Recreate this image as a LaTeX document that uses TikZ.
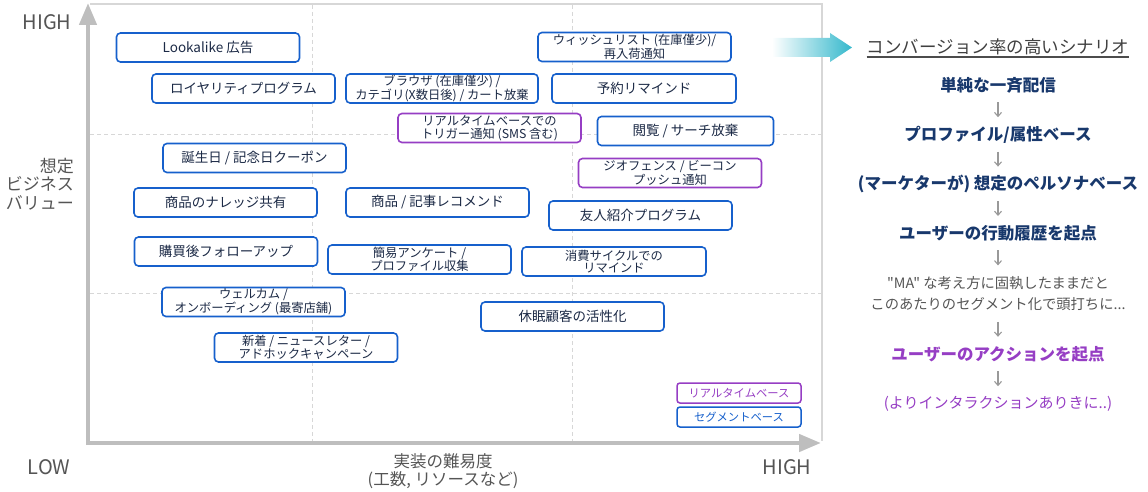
\documentclass[tikz,border=0pt]{standalone}
\usepackage{fontspec}
\setmainfont{Noto Sans CJK JP}
\newfontfamily\plainquotes{Noto Sans CJK JP}
\usetikzlibrary{arrows.meta,positioning}
\definecolor{scenblue}{RGB}{22,96,204}
\definecolor{scenpurple}{RGB}{150,62,196}
\definecolor{scentext}{RGB}{28,42,70}
\definecolor{stepnavy}{RGB}{24,56,108}
\definecolor{axisgray}{RGB}{190,190,190}
\definecolor{gridgray}{RGB}{215,215,215}
\definecolor{labelgray}{RGB}{85,85,85}
\definecolor{arrowteal}{RGB}{52,184,204}

\begin{document}
\begin{tikzpicture}[x=1pt,y=-1pt,
    scen/.style={draw=scenblue, fill=white, line width=1.6pt, rounded corners=4pt,
      minimum width=183pt, minimum height=29pt, inner sep=1pt, align=center,
      text=scentext, font=\fontsize{13.5}{14}\selectfont},
    scentwo/.style={scen, font=\fontsize{12.3}{12.5}\selectfont},
    realtime/.style={draw=scenpurple},
    legendbox/.style={draw=#1, text=#1, fill=white, line width=1.5pt, rounded corners=3pt,
      minimum width=124pt, minimum height=20pt, inner sep=1pt, font=\fontsize{11.3}{12}\selectfont},
    flowstep/.style={font=\bfseries\fontsize{16.5}{18}\selectfont, text=stepnavy,
      minimum height=34pt, inner sep=0pt},
    flownote/.style={font=\fontsize{14.3}{21}\selectfont, text=labelgray, align=center,
      minimum height=56pt, inner sep=0pt},
    flowarrow/.style={draw=black!40, line width=1.1pt, -{Straight Barb[length=4pt,width=7pt]}},
    axisline/.style={draw=axisgray, line width=4.5pt, -{Triangle[length=22pt,width=17pt]}},
    gridline/.style={draw=gridgray, line width=0.9pt, dash pattern=on 4pt off 3pt},
    axislabel/.style={text=labelgray, inner sep=0pt},
    node distance=15pt
  ]
  \useasboundingbox (0,0) rectangle (1148,492);

  % panel frame and grid
  \draw[gridgray, line width=1.6pt] (90,4) -- (822,4) -- (822,441);
  \draw[gridline] (312,5) -- (312,441);
  \draw[gridline] (572,5) -- (572,441);
  \draw[gridline] (90,134) -- (821,134);
  \draw[gridline] (90,293) -- (821,293);

  % axes
  \draw[axisline] (88,445) -- (88,3);
  \draw[axisline] (86,443) -- (821,443);

  % axis labels
  \node[axislabel, font=\fontsize{20}{20}\selectfont] (yhigh) at (47,22) {HIGH};
  \node[axislabel, font=\fontsize{20}{20}\selectfont] (xlow) at (49,467) {LOW};
  \node[axislabel, font=\fontsize{20}{20}\selectfont] (xhigh) at (787,467) {HIGH};
  \node[axislabel, anchor=east, align=right, font=\fontsize{17}{18.5}\selectfont] (ytitle) at (74,184)
    {想定\\ビジネス\\バリュー};
  \node[axislabel, align=center, font=\fontsize{16.5}{18}\selectfont] (xtitle) at (443,471)
    {実装の難易度\\(工数, リソースなど)};

  % scenarios
  \node[scen] (lookalike) at (208,47.5) {Lookalike 広告};
  \node[scentwo, minimum width=193pt] (wishlist) at (634.5,47) {ウィッシュリスト (在庫僅少)/\\再入荷通知};
  \node[scen] (loyalty) at (243.5,88.5) {ロイヤリティプログラム};
  \node[scentwo, minimum width=192pt] (browse) at (442,88.5) {ブラウザ (在庫僅少) /\\カテゴリ(X数日後) / カート放棄};
  \node[scen, minimum width=184pt] (reserve) at (644,88.5) {予約リマインド};
  \node[scentwo, realtime] (trigger) at (489.5,128) {リアルタイムベースでの\\トリガー通知 (SMS 含む)};
  \node[scen, minimum width=176pt] (abandon) at (685.5,131) {閲覧 / サーチ放棄};
  \node[scen] (birthday) at (254.5,158) {誕生日 / 記念日クーポン};
  \node[scentwo, realtime] (geofence) at (670,173) {ジオフェンス / ビーコン\\プッシュ通知};
  \node[scen] (knowledge) at (225.5,202.5) {商品のナレッジ共有};
  \node[scen] (recommend) at (437.5,202.5) {商品 / 記事レコメンド};
  \node[scen] (referral) at (640.5,215.5) {友人紹介プログラム};
  \node[scen] (followup) at (226,251.5) {購買後フォローアップ};
  \node[scentwo] (survey) at (419.5,259.5) {簡易アンケート /\\プロファイル収集};
  \node[scentwo, minimum width=184pt] (cycle) at (614,261.5) {消費サイクルでの\\リマインド};
  \node[scentwo] (welcome) at (253.5,302) {ウェルカム /\\オンボーディング (最寄店舗)};
  \node[scentwo] (newsletter) at (306,347.5) {新着 / ニュースレター /\\アドホックキャンペーン};
  \node[scen] (dormant) at (572.5,316.5) {休眠顧客の活性化};

  % legend
  \node[legendbox=scenpurple] (legrealtime) at (739,393) {リアルタイムベース};
  \node[legendbox=scenblue] (legsegment) at (739,417) {セグメントベース};

  % right panel
  \shade[left color=white, right color=arrowteal]
    (772,38) -- (830,38) -- (830,33) -- (852,47.5) -- (830,62) -- (830,57) -- (772,57) -- cycle;
  \node[inner sep=0pt, text=black!75, font=\fontsize{17.5}{18}\selectfont] (title) at (998,47)
    {コンバージョン率の高いシナリオ};
  \draw[black!70, line width=1.2pt] ([yshift=-10pt]title.west) -- ([yshift=-10pt]title.east);

  \node[flowstep] (stepbulk) at (998,85) {単純な一斉配信};
  \node[flowstep, below=of stepbulk] (stepprofile) {プロファイル/属性ベース};
  \node[flowstep, below=of stepprofile] (steppersona) {(マーケターが) 想定のペルソナベース};
  \node[flowstep, below=of steppersona] (stephistory) {ユーザーの行動履歴を起点};
  \node[flownote, below=of stephistory] (stepnote)
    {{\plainquotes "MA"} な考え方に固執したままだと\\このあたりのセグメント化で頭打ちに...};
  \node[flowstep, text=scenpurple, below=of stepnote] (stepaction) {ユーザーのアクションを起点};
  \node[flowstep, font=\fontsize{15}{18}\selectfont, text=scenpurple, below=of stepaction] (stepinteract)
    {(よりインタラクションありきに..)};

  \draw[flowarrow] (stepbulk) -- (stepprofile);
  \draw[flowarrow] (stepprofile) -- (steppersona);
  \draw[flowarrow] (steppersona) -- (stephistory);
  \draw[flowarrow] (stephistory) -- (stepnote);
  \draw[flowarrow] (stepnote) -- (stepaction);
  \draw[flowarrow] (stepaction) -- (stepinteract);
\end{tikzpicture}
\end{document}
